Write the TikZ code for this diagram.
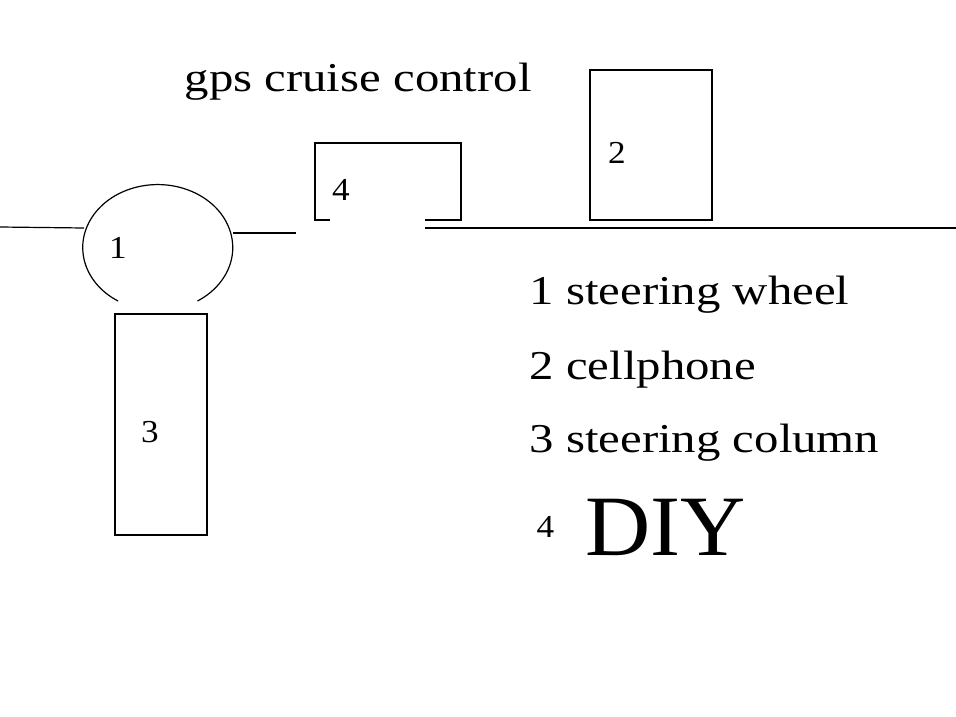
\documentclass[tikz,border=0pt]{standalone}
\usepackage{fontspec}
\setmainfont{Liberation Serif}
\begin{document}
\begin{tikzpicture}[x=1pt,y=-1pt,line width=1.2pt,
  lbl/.style={font=\fontsize{32}{36}\selectfont,inner sep=0pt,xscale=1.1},
  leg/.style={font=\fontsize{41}{44}\selectfont,inner sep=0pt,anchor=west,xscale=1.19}]
\useasboundingbox (0,0) rectangle (956,717);
% lines
\draw (0,227) -- (84,228);
\draw (233,233) -- (296,233);
\draw (425,228) -- (956,228);
% wheel
\draw (118,301) arc[start angle=122,end angle=418,x radius=75,y radius=63];
% box 4
\draw (330,220) -- (315,220) -- (315,143) -- (461,143) -- (461,220) -- (425,220);
% box 2
\draw (590,70) rectangle (712,220);
% box 3
\draw (115,314) rectangle (207,535);
\node[lbl] (n1) at (118,248) {1};
\node[lbl] (n4) at (341,190) {4};
\node[lbl] (n2) at (617,153) {2};
\node[lbl] (n3) at (150,432) {3};
\node[leg] (t) at (184,82) {gps cruise control};
\node[leg] (l1) at (529,295) {1 steering wheel};
\node[leg] (l2) at (529,370) {2 cellphone};
\node[leg] (l3) at (529,443) {3 steering column};
\node[lbl,anchor=west] (l4) at (536,527) {4};
\node[anchor=west,inner sep=0pt,font=\fontsize{86}{90}\selectfont,xscale=1.05] (d) at (585,527) {DIY};
\end{tikzpicture}
\end{document}
